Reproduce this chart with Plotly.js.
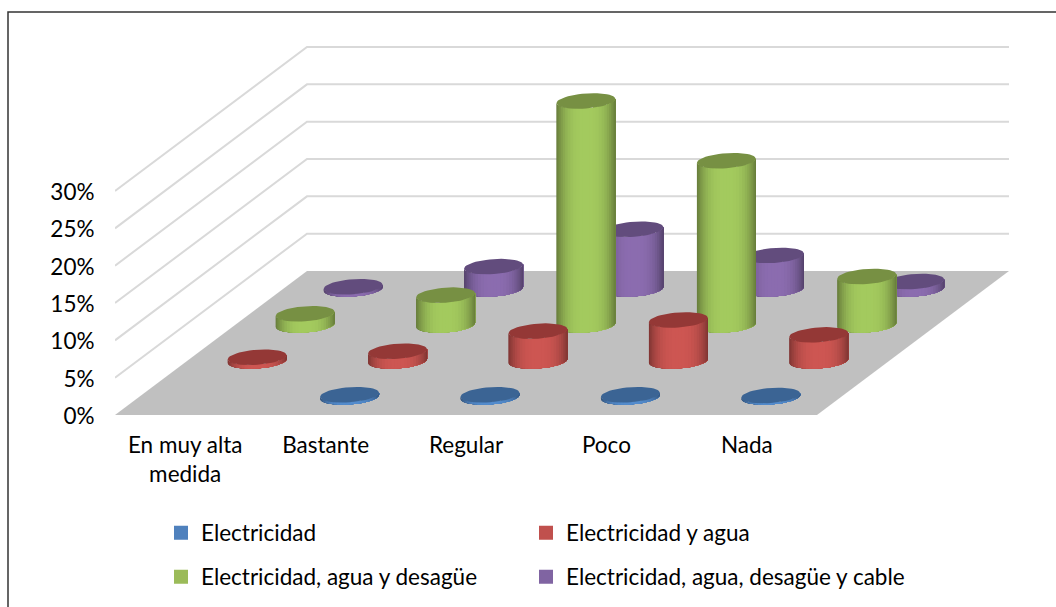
<!DOCTYPE html>
<html><head><meta charset="utf-8">
<script src="https://cdn.plot.ly/plotly-3.0.1.min.js"></script>
<style>html,body{margin:0;padding:0;background:#fff;overflow:hidden}#chart{width:1056px;height:607px}</style>
</head><body><div id="chart"></div>
<script>
const categories = ["En muy alta<br>medida","Bastante","Regular","Poco","Nada"];
const electricidad = [null,0.3,0.3,0.3,0.2];
const electricidadAgua = [0.5,1.3,4,5.5,3.5];
const electricidadAguaDesague = [1.5,4,30,22,6.5];
const electricidadAguaDesagueCable = [0.3,3,8,4.5,1];
const tickValues = [0,5,10,15,20,25,30];
const tickLabels = ["0%","5%","10%","15%","20%","25%","30%"];

const PW=900, PH=375, L=115, T=40, CAT=140.4, PCT=37.33/5, W=1056, H=607;
const DX=192/CAT, DY=144/PCT;
const proj=(c,d,v)=>[c+d*DX, v+d*DY];
const series=[
 {name:"Electricidad",vals:electricidad,d:0,col:[79,129,189],lit:[84,140,205],top:[59,100,148],legend:"legend"},
 {name:"Electricidad y agua",vals:electricidadAgua,d:1,col:[192,80,77],lit:[205,86,82],top:[148,56,54],legend:"legend2"},
 {name:"Electricidad, agua y desagüe",vals:electricidadAguaDesague,d:2,col:[155,187,89],lit:[163,202,94],top:[119,144,67],legend:"legend3"},
 {name:"Electricidad, agua, desagüe y cable",vals:electricidadAguaDesagueCable,d:3,col:[128,100,162],lit:[139,108,175],top:[98,76,125],legend:"legend4"}
];
const traces=[];
const fl=[proj(0,0,0),proj(5,0,0),proj(5,1,0),proj(0,1,0),proj(0,0,0)];
traces.push({x:fl.map(p=>p[0]),y:fl.map(p=>p[1]),mode:"lines",fill:"toself",fillcolor:"#c0c0c0",line:{width:0},hoverinfo:"skip",showlegend:false});
let gx=[],gy=[];
tickValues.slice(1).forEach(v=>{[proj(0,0,v),proj(0,1,v),proj(5,1,v)].forEach(p=>{gx.push(p[0]);gy.push(p[1]);});gx.push(null);gy.push(null);});
traces.push({x:gx,y:gy,mode:"lines",line:{color:"#d9d9d9",width:2},hoverinfo:"skip",showlegend:false});

const RX=29.5/CAT, RY=7.5/PCT, SH=2/PCT, BANDS=28;
const ePt=(cx,cy,t)=>[cx+RX*Math.cos(t), cy+RY*Math.sin(t)+SH*Math.cos(t)];
function mix(a,b,f){return "rgb("+a.map((v,i)=>Math.round(v+(b[i]-v)*f)).join(",")+")";}
[3,2,1,0].forEach(depth=>{
  const s=series[depth];
  const dep=(depth+0.5)/4;
  const dark=s.col.map(v=>v*0.66);
  for(let b=0;b<BANDS;b++){
    // each band runs to the right edge; the next band paints over it, so no seams appear
    const t0=Math.PI+b/BANDS*Math.PI;
    const tm=Math.PI+(b+0.5)/BANDS*Math.PI;
    const e=Math.abs(Math.cos(tm));
    const color=mix(s.lit,dark,Math.pow(e,3));
    const xs=[],ys=[];
    s.vals.forEach((v,i)=>{
      if(v===null) return;
      const [cx,cy0]=proj(i+0.5,dep,0), cy1=cy0+v;
      const steps=BANDS-b;
      const low=[],up=[];
      for(let k=0;k<=steps;k++){const t=t0+(2*Math.PI-t0)*k/steps;low.push(ePt(cx,cy0,t));up.push(ePt(cx,cy1,t));}
      up.reverse();
      low.concat(up,[low[0]]).forEach(p=>{xs.push(p[0]);ys.push(p[1]);});
      xs.push(null);ys.push(null);
    });
    traces.push({x:xs,y:ys,mode:"lines",fill:"toself",fillcolor:color,line:{width:0},hoverinfo:"skip",showlegend:false});
  }
  const xs=[],ys=[];
  s.vals.forEach((v,i)=>{
    if(v===null) return;
    const [cx,cy0]=proj(i+0.5,dep,0), cy1=cy0+v;
    for(let k=0;k<=48;k++){const p=ePt(cx,cy1,k/48*2*Math.PI);xs.push(p[0]);ys.push(p[1]);}
    xs.push(null);ys.push(null);
  });
  const tc="rgb("+s.top.join(",")+")";
  traces.push({x:xs,y:ys,mode:"lines",fill:"toself",fillcolor:tc,line:{width:0},hoverinfo:"skip",showlegend:false});
});
series.forEach(s=>{
  traces.push({x:[null],y:[null],mode:"markers",name:s.name,legend:s.legend,marker:{symbol:"square",size:14,color:"rgb("+s.col.join(",")+")"},hoverinfo:"skip"});
});
const px=x=>x/W, py=y=>1-y/H;
const font={family:"Lato, Carlito, sans-serif",size:22.5,color:"#000"};
const legendCommon={font:font,bgcolor:"rgba(0,0,0,0)",xanchor:"left",yanchor:"middle",itemclick:false,itemdoubleclick:false};
const col1=161, col2=526, row1=533, row2=577;
const layout={
  width:W,height:H,autosize:false,showlegend:true,
  margin:{l:0,t:0,r:0,b:0,pad:0},
  paper_bgcolor:"#fff",plot_bgcolor:"rgba(0,0,0,0)",font:font,
  xaxis:{domain:[px(L),px(L+PW)],range:[0,PW/CAT],tickmode:"array",tickvals:categories.map((c,i)=>i+0.5),ticktext:categories,showgrid:false,zeroline:false,showline:false,ticks:"outside",ticklen:10,tickcolor:"rgba(0,0,0,0)",tickfont:font,fixedrange:true},
  yaxis:{domain:[py(T+PH),py(T)],range:[0,PH/PCT],tickmode:"array",tickvals:tickValues,ticktext:tickLabels,showgrid:false,zeroline:false,showline:false,ticks:"outside",ticklen:15,tickcolor:"rgba(0,0,0,0)",tickfont:font,ticklabelshift:1,fixedrange:true},
  legend:Object.assign({},legendCommon,{x:px(col1),y:py(row1)}),
  legend2:Object.assign({},legendCommon,{x:px(col2),y:py(row1)}),
  legend3:Object.assign({},legendCommon,{x:px(col1),y:py(row2)}),
  legend4:Object.assign({},legendCommon,{x:px(col2),y:py(row2)}),
  shapes:[{type:"path",xref:"paper",yref:"paper",path:`M ${px(8)} ${py(620)} L ${px(8)} ${py(12)} L ${px(1070)} ${py(12)}`,line:{color:"#333",width:1.5}}]
};
Plotly.newPlot("chart",traces,layout,{displayModeBar:false});
</script></body></html>
